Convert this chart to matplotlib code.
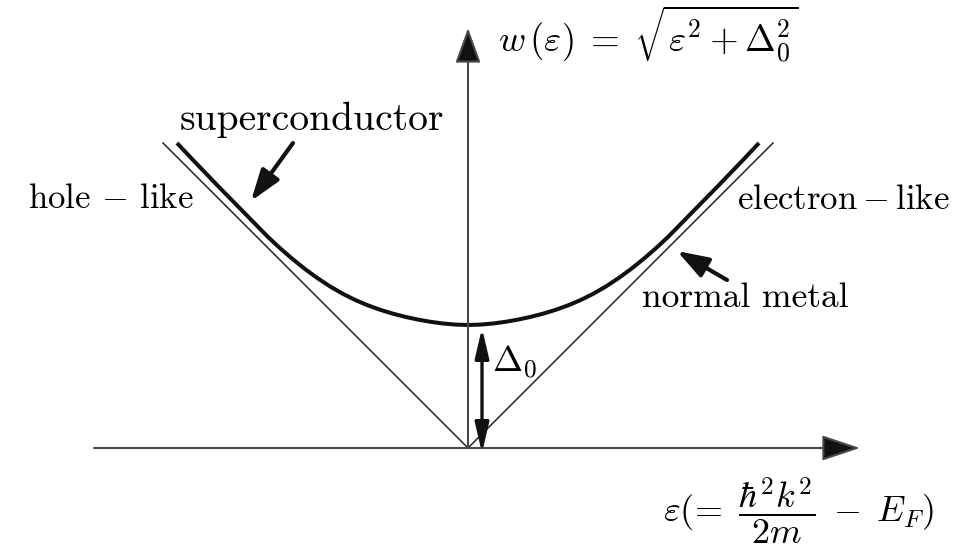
import matplotlib
matplotlib.use("Agg")
import matplotlib.pyplot as plt

plt.rcParams["mathtext.fontset"] = "cm"
plt.rcParams["font.family"] = "cmr10"
plt.rcParams["axes.unicode_minus"] = False

# quasiparticle dispersion (screen units, origin at the Fermi level)
eps_sc = [-291, -275, -250, -225, -200, -187.5, -175, -162.5, -150, -137.5, -125,
          -112.5, -100, -87.5, -75, -62.5, -50, -37.5, -25, -12.5, 0,
          12.5, 25, 37.5, 50, 62.5, 75, 87.5, 100, 112.5, 125, 137.5, 150,
          162.5, 175, 187.5, 200, 225, 250, 275, 291]
w_sc = [305, 288, 262, 236.5, 211, 199.4, 188.6, 178.6, 169.5, 161.3, 154.1,
        147.9, 142.6, 138.1, 134.3, 131.1, 128.4, 126.2, 124.5, 123.4, 123,
        123.4, 124.5, 126.2, 128.4, 131.1, 134.3, 138.1, 142.6, 147.9, 154.1, 161.3, 169.5,
        178.6, 188.6, 199.4, 211, 236.5, 262, 288, 305]

# normal metal |eps|
eps_nm = [-305, 0, 305]
w_nm = [305, 0, 305]

delta0 = 123
x_axis = [-374, 392]
y_axis = [0, 420]

fig = plt.figure(figsize=(9.71, 5.54), dpi=100)
ax = fig.add_axes([0, 0, 1, 1])
ax.set_xlim(-468, 503)
ax.set_ylim(-106, 448)
ax.axis("off")

axis_col = "#4a4a4a"
ax.annotate("", xy=(x_axis[1], 0), xytext=(x_axis[0], 0),
            arrowprops=dict(arrowstyle="-|>,head_length=2.4,head_width=0.8",
                            mutation_scale=10, lw=1.5, color=axis_col,
                            fc="#111111", shrinkA=0, shrinkB=0))
ax.annotate("", xy=(0, y_axis[1]), xytext=(0, y_axis[0]),
            arrowprops=dict(arrowstyle="-|>,head_length=2.2,head_width=0.8",
                            mutation_scale=10, lw=1.5, color=axis_col,
                            fc="#111111", shrinkA=0, shrinkB=0))

ax.plot(eps_nm, w_nm, color="#222222", lw=1.1, solid_joinstyle="miter")
ax.plot(eps_sc, w_sc, color="#111111", lw=2.9, solid_capstyle="butt",
        solid_joinstyle="round")

# gap arrow
ax.annotate("", xy=(14, delta0 - 3), xytext=(14, -5),
            arrowprops=dict(arrowstyle="<|-|>,head_length=1.8,head_width=0.42",
                            mutation_scale=10, lw=2.4, color="#111111",
                            shrinkA=0, shrinkB=0))
ax.text(24, 76, r"$\Delta_0$", fontsize=26, ha="left", va="baseline")

# pointer arrows
ax.annotate("", xy=(-217, 247), xytext=(-175, 305),
            arrowprops=dict(arrowstyle="-|>,head_length=1.9,head_width=0.65",
                            mutation_scale=10, lw=3, color="#111111",
                            shrinkA=0, shrinkB=0))
ax.annotate("", xy=(209, 197), xytext=(259, 168),
            arrowprops=dict(arrowstyle="-|>,head_length=1.9,head_width=0.65",
                            mutation_scale=10, lw=3, color="#111111",
                            shrinkA=0, shrinkB=0))

ax.text(-288, 318, "superconductor", fontsize=28.5, ha="left", va="baseline")
ax.text(-440, 240, r"hole $-$ like", fontsize=25, ha="left", va="baseline")
ax.text(269, 239, r"$\mathrm{electron-like}$", fontsize=25, ha="left", va="baseline")
ax.text(174, 141, "normal metal", fontsize=25.5, ha="left", va="baseline")

ax.text(30, 396, r"$w\,(\varepsilon)\;=\;\sqrt{\varepsilon^2 + \Delta_0^2}$",
        fontsize=26.5, ha="left", va="baseline")
ax.text(195, -63, r"$\varepsilon(\!=\;\dfrac{\hbar^2k^2}{2m}\;-\;E_F)$",
        fontsize=26, ha="left", va="center")

fig.savefig("out.png", dpi=100)
